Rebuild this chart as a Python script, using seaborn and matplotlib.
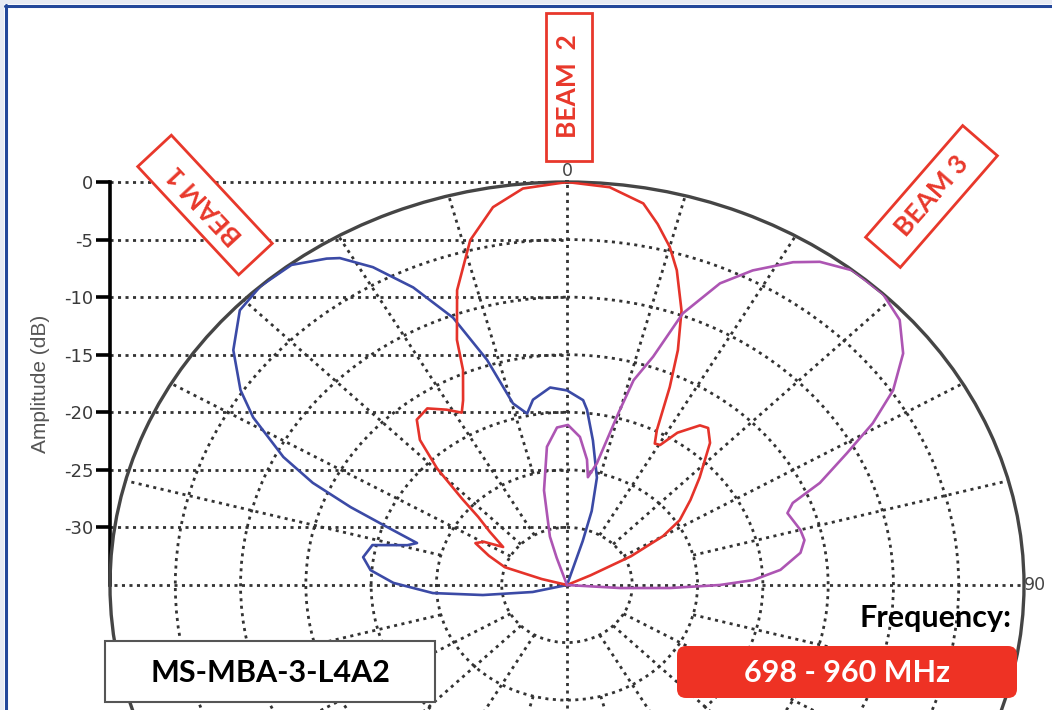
import numpy as np
import matplotlib
matplotlib.use("Agg")
import matplotlib.pyplot as plt
import seaborn as sns
from matplotlib.patches import Rectangle, FancyBboxPatch
from matplotlib.lines import Line2D
from matplotlib.transforms import Affine2D

# ---------------- pattern data (azimuth in degrees, amplitude in dB) ----------------
beam1_deg = [-110, -103, -97.7, -93.9, -89.2, -85.1, -81.2, -76.9, -74.2, -72.4, -69.9,
             -67.8, -65.5, -62.9, -58.8, -55.9, -51.4, -46.4, -42.1, -37.2, -33.0, -31.5,
             -28.3, -24.5, -20.6, -17.4, -14.7, -11.6, -9.2, -4.3, 0.0, 4.4, 5.75, 9.0,
             13.8, 16.4, 17.5, 18.5, 90]
beam1_db = [-35, -32.3, -28.5, -24.7, -21.7, -19.9, -19.2, -19.7, -22.3, -22.95, -20.3,
            -17.1, -13.6, -10.6, -6.9, -4.8, -2.3, -0.4, 0.0, -0.1, -1.2, -1.7,
            -3.65, -6.6, -10.2, -14.5, -18.7, -19.8, -18.7, -17.8, -18.1, -18.9, -19.7, -22.3,
            -25.4, -28.3, -31.0, -35, -35]

beam2_deg = [-90, -78, -75, -72, -67, -62.6, -59.5, -56, -52, -49, -47, -44.5, -41.8,
             -38.7, -34.9, -31.2, -28.3, -26.4, -23.1, -21.6, -18.2, -13.9, -9.8, -5.6, 0,
             5.4, 10, 12.5, 15, 17.1, 20.2, 22.6, 24.6, 27.1, 28.7, 30.4, 32.6, 36.3, 38.4,
             41.6, 47.4, 52, 56.9, 60, 63, 65, 67, 90]
beam2_db = [-35, -35, -33, -30, -28.5, -27.1, -27.6, -29.1, -27.5, -26, -24, -20.8, -18.1,
            -16.6, -16.3, -17.2, -18.0, -17.1, -14.7, -12.1, -8.05, -4.15, -1.7, -0.4, 0,
            -0.3, -1.35, -2.9, -4.6, -6.4, -9.6, -12.9, -16.1, -19.9, -21.0, -20.9, -19.3, -17.8, -17.6,
            -18.5, -21.2, -23, -24.7, -26.5, -29.5, -33, -35, -35]

beam3_deg = [-90, -20, -18.5, -17.3, -12.1, -7.3, -3.2, 0.3, 4.4, 8.0, 9.7, 12.2, 14.8,
             16.0, 18.4, 20.6, 24.1, 27.5, 31.7, 34.6, 38.7, 43.7, 47.9, 52.0, 55.9, 59.05,
             61.9, 65.4, 67.6, 69.7, 75.0, 77.9, 81.1, 85.4, 88.3, 90, 91.9, 93.7, 97, 110]
beam3_db = [-35, -35, -32.5, -30.6, -26.6, -22.9, -21.3, -21.1, -22.1, -24.0, -25.5, -24.2, -19.5,
            -16.5, -14.1, -9.8, -6.3, -4.2, -2.05, -0.9, 0.0, 0.0, -0.66, -2.33, -4.84, -7.7,
            -10.7, -13.7, -16.3, -17.0, -16.5, -16.4, -16.9, -18.6, -20.75, -23.3, -27.1, -30.9, -35, -35]

amp_ticks = [0, -5, -10, -15, -20, -25, -30]
ring_levels = [-30, -25, -20, -15, -10, -5]
angle_ticks = [0, 90]
angle_labels = ["0", "90"]
beam_names = ["BEAM 1", "BEAM  2", "BEAM 3"]
model_name = "MS-MBA-3-L4A2"
freq_title = "Frequency:"
freq_range = "698 - 960 MHz"

# ---------------- style ----------------
sns.set_theme(style="white")
plt.rcParams["font.family"] = ["DejaVu Sans"]

W, H = 1052, 710
fig = plt.figure(figsize=(W / 100, H / 100), dpi=100)
fig.patch.set_facecolor("white")

# pixel transform (origin top-left, y downwards)
PX = Affine2D().scale(1, -1).translate(0, H).scale(1 / 100) + fig.dpi_scale_trans

GRID = dict(color="#333333", linewidth=2.0, linestyle=(0, (1.1, 1.6)))
RED = "#e8382b"

cx, cy = 567, 585      # pattern origin
rx, ry = 457, 403      # outer ring half-axes

# ---------------- amplitude scale (left) ----------------
axc = fig.add_axes([(cx - rx) / W, 1 - cy / H, rx / W, ry / H], zorder=0)
axc.set_xlim(0, 1)
axc.set_ylim(-35, 0)
axc.set_yticks(amp_ticks)
axc.set_yticklabels([str(t) for t in amp_ticks])
axc.set_xticks([])
axc.patch.set_alpha(0)
for s in ["top", "right", "bottom"]:
    axc.spines[s].set_visible(False)
axc.spines["left"].set_color("black")
axc.spines["left"].set_linewidth(2.6)
axc.tick_params(axis="y", left=True, length=10, width=2.6, color="black", pad=2,
                labelsize=13, labelcolor="#3a3a3a")
axc.yaxis.grid(True, **GRID)
for gl in axc.get_ygridlines():
    gl.set_clip_on(False)
axc.set_ylabel("Amplitude (dB)", fontsize=15, color="#555555", labelpad=10,
               family=["Liberation Sans", "DejaVu Sans"])

# ---------------- polar pattern ----------------
ax = fig.add_axes([(cx - rx) / W, 1 - (cy + ry) / H, 2 * rx / W, 2 * ry / H],
                  projection="polar", zorder=1)
ax.set_aspect("auto")
ax.set_facecolor("none")
ax.set_theta_zero_location("N")
ax.set_theta_direction(-1)

# radial grid segments
for a in range(0, 360, 15):
    if a % 90 == 0:
        r0 = -35
    elif a % 30 == 0 or a % 45 == 0:
        r0 = -30
    else:
        r0 = -25
    ax.plot([np.deg2rad(a)] * 2, [r0, 0], zorder=1, **GRID)

colors = ["#3b4aa6", "#e5332a", "#ad55b3"]
for deg, db, c in zip([beam1_deg, beam2_deg, beam3_deg],
                      [beam1_db, beam2_db, beam3_db], colors):
    sns.lineplot(x=np.deg2rad(deg), y=db, ax=ax, sort=False, estimator=None,
                 color=c, linewidth=1.9, zorder=3)

ax.set_ylim(-35, 0)
ax.set_yticks(ring_levels)
ax.set_yticklabels([])
ax.yaxis.grid(True, **GRID)
ax.tick_params(axis="y", length=0)
ax.set_xticks(np.deg2rad(angle_ticks))
ax.set_xticklabels(angle_labels)
ax.xaxis.grid(False)
ax.tick_params(axis="x", pad=-5, labelsize=12.5, labelcolor="#444444")
ax.set_xlabel("")
ax.set_ylabel("")
ax.spines["polar"].set_color("#454545")
ax.spines["polar"].set_linewidth(2.4)

# ---------------- beam tags ----------------
tags = [(205, 205, 133, beam_names[0]), (568.5, 86.5, 90, beam_names[1]),
        (931.5, 196.5, 49, beam_names[2])]
for x, y, rot, name in tags:
    box = Rectangle((-74, -23), 148, 46, fc="white", ec=RED, lw=2.0,
                    transform=Affine2D().rotate_deg(-rot).translate(x, y) + PX, zorder=5)
    fig.add_artist(box)
    fig.text(x, y, name, transform=PX, rotation=rot, rotation_mode="anchor",
             ha="center", va="center", color=RED, fontsize=19, fontweight="bold",
             family=["Lato", "DejaVu Sans"], zorder=6)

# ---------------- model box ----------------
fig.add_artist(Rectangle((105, 641), 330, 61, fc="white", ec="#555555", lw=1.5,
                         transform=PX, zorder=5))
fig.text(270, 673, model_name, transform=PX, ha="center", va="center", fontsize=22,
         fontweight="bold", color="black", family=["Lato", "DejaVu Sans"], zorder=6)

# ---------------- frequency ----------------
fig.text(1011, 618, freq_title, transform=PX, ha="right", va="center", fontsize=22,
         fontweight="bold", color="black", family=["Lato", "DejaVu Sans"], zorder=6)
fig.add_artist(FancyBboxPatch((677, 646), 340, 52, boxstyle="round,pad=0,rounding_size=9",
                              fc="#ee3224", ec="none", transform=PX, zorder=5))
fig.text(847, 673, freq_range, transform=PX, ha="center", va="center", fontsize=22,
         fontweight="bold", color="white", family=["Lato", "DejaVu Sans"], zorder=6)

# ---------------- slide frame ----------------
fig.add_artist(Rectangle((0, 0), W, 4, fc="#e7eaf3", ec="none", transform=PX, zorder=7))
fig.add_artist(Rectangle((0, 0), 4, H, fc="#e7eaf3", ec="none", transform=PX, zorder=7))
fig.add_artist(Line2D([5, W], [5.5, 5.5], color="#23479a", lw=2.2, transform=PX, zorder=8))
fig.add_artist(Line2D([5.5, 5.5], [5, H], color="#23479a", lw=2.2, transform=PX, zorder=8))

fig.savefig("out.png", dpi=100, facecolor="white")
